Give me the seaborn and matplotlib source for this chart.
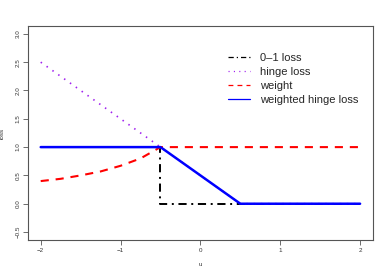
import matplotlib
matplotlib.use("Agg")
import matplotlib.pyplot as plt
import seaborn as sns

zero_one_u = [-2.0, -0.5, -0.5, 2.0]
zero_one_loss = [1.0, 1.0, 0.0, 0.0]

hinge_u = [-2.0, 0.5, 2.0]
hinge_loss = [2.5, 0.0, 0.0]

weight_u = [-2.0, -1.75, -1.5, -1.25, -1.0, -0.75, -0.5, 2.0]
weight_val = [0.40, 0.44, 0.50, 0.57, 0.67, 0.80, 1.0, 1.0]

whinge_u = [-2.0, -0.5, 0.5, 2.0]
whinge_loss = [1.0, 1.0, 0.0, 0.0]

x_ticks = [-2, -1, 0, 1, 2]
y_ticks = [-0.5, 0.0, 0.5, 1.0, 1.5, 2.0, 2.5, 3.0]

sns.set_style("white")
plt.rcParams["font.family"] = ["Liberation Sans", "DejaVu Sans"]

fig = plt.figure(figsize=(3.88, 2.73), dpi=100)
ax = fig.add_axes([0.072, 0.121, 0.889, 0.784])

sns.lineplot(x=zero_one_u, y=zero_one_loss, sort=False, estimator=None, ax=ax,
             color="black", lw=1.4, linestyle=(0, (4.2, 2.4, 1.0, 2.4)), label="0\u20131 loss")
sns.lineplot(x=hinge_u, y=hinge_loss, sort=False, estimator=None, ax=ax,
             color="#A020F0", lw=1.2, linestyle=(0, (0.9, 3.4)), label="hinge loss")
sns.lineplot(x=weight_u, y=weight_val, sort=False, estimator=None, ax=ax,
             color="#FF0000", lw=1.5, linestyle=(0, (3.9, 3.3)), label="weight")
sns.lineplot(x=whinge_u, y=whinge_loss, sort=False, estimator=None, ax=ax,
             color="#0000FF", lw=1.8, label="weighted hinge loss")

ax.set_xlim(-2.16, 2.16)
ax.set_ylim(-0.64, 3.14)
ax.set_xticks(x_ticks)
ax.set_yticks(y_ticks)
ax.set_xticklabels([str(t).replace("-", "\u2212") for t in x_ticks])
ax.set_yticklabels([f"{t:.1f}".replace("-", "\u2212") for t in y_ticks],
                   rotation=90, va="center")
ax.tick_params(axis="both", labelsize=4.5, labelcolor="#333333", length=3.5,
               width=0.6, color="#555555", direction="out", bottom=True, left=True, pad=2)
ax.set_xlabel("u", fontsize=4.5, color="#333333", labelpad=7)
ax.set_ylabel("loss", fontsize=4.5, color="#333333", labelpad=8)
for sp in ax.spines.values():
    sp.set_color("#555555")
    sp.set_linewidth(0.8)

leg = ax.legend(loc="upper left", bbox_to_anchor=(0.567, 0.893), frameon=False,
                fontsize=8, handlelength=2.0, handletextpad=0.9, labelspacing=0.35,
                borderaxespad=0)
for line in leg.get_lines():
    line.set_linewidth(0.9)

fig.savefig("out.png", dpi=100)
